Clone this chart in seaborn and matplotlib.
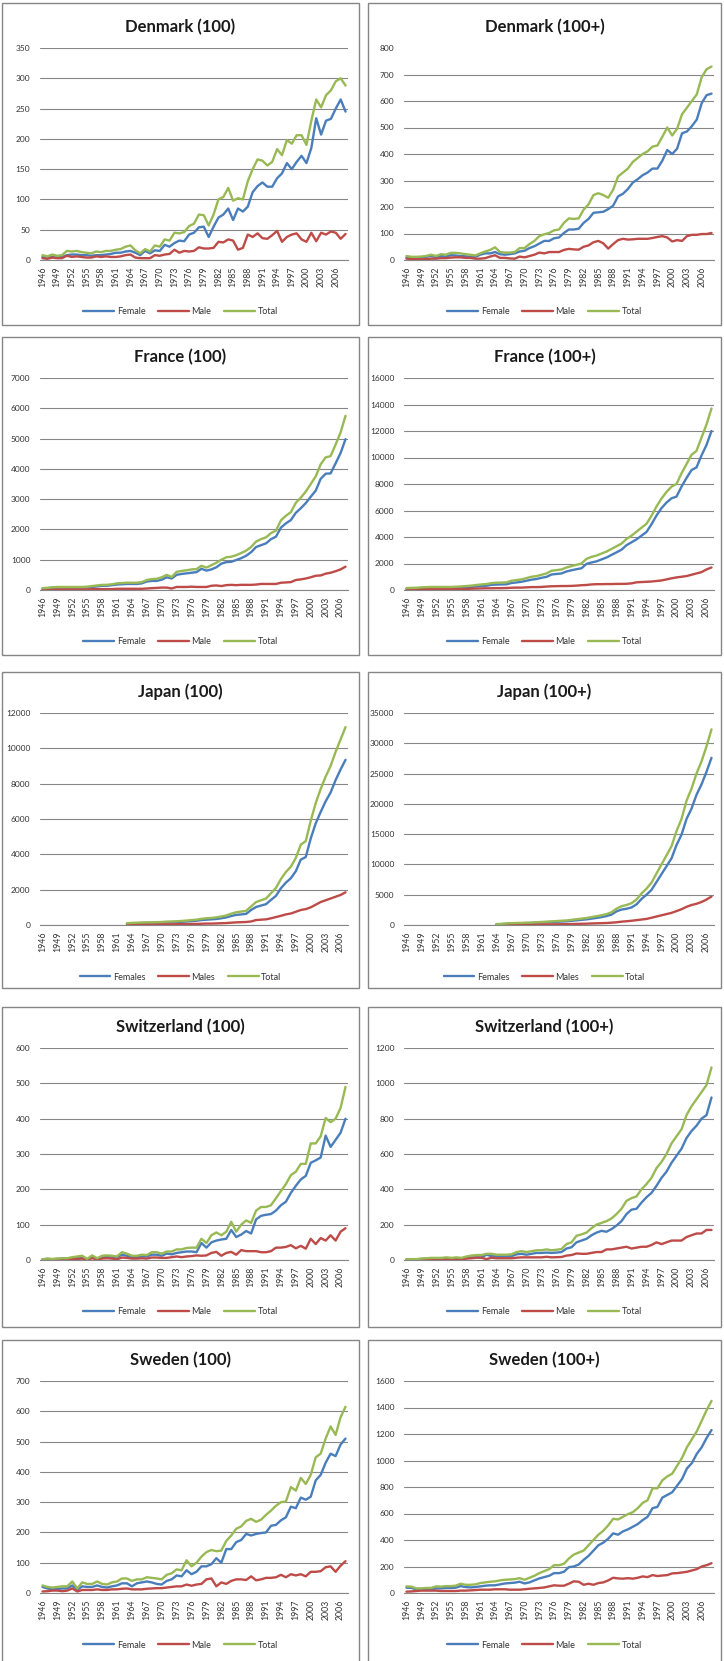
import pandas as pd
import matplotlib
matplotlib.use('Agg')
import matplotlib.pyplot as plt
from matplotlib.patches import Rectangle
import seaborn as sns

sns.set_theme(style='white')
plt.rcParams['font.family'] = ['Lato', 'DejaVu Sans']

W, H = 724, 1661
BLUE, RED, GREEN = '#4A7EBB', '#BE4B48', '#98B954'
GRID = '#868686'

# ---- Denmark (100), 1946-2008
dk100_f = [5, 4, 5, 4, 5, 8, 9, 9, 8, 8,
           7, 8, 8, 9, 10, 12, 12, 14, 15, 12,
           8, 15, 11, 16, 15, 25, 22, 28, 32, 31,
           42, 45, 54, 55, 38, 55, 70, 75, 85, 66,
           85, 80, 88, 112, 122, 128, 121, 121, 135, 143,
           160, 150, 162, 172, 160, 185, 234, 207, 230, 233,
           250, 265, 245]
dk100_m = [3, 2, 4, 3, 3, 7, 5, 6, 5, 4,
           4, 6, 5, 6, 5, 5, 6, 8, 9, 4,
           3, 3, 3, 8, 7, 9, 10, 17, 12, 15,
           14, 15, 21, 19, 19, 20, 30, 29, 34, 32,
           17, 20, 42, 38, 44, 36, 35, 41, 48, 30,
           38, 42, 44, 34, 30, 45, 31, 45, 42, 47,
           45, 35, 43]
dk100_t = [8, 6, 9, 7, 8, 15, 14, 15, 13, 12,
           11, 14, 13, 15, 15, 17, 18, 22, 24, 16,
           11, 18, 14, 24, 22, 34, 32, 45, 44, 46,
           56, 60, 75, 74, 57, 75, 100, 104, 119, 98,
           102, 100, 130, 150, 166, 164, 156, 162, 183, 173,
           198, 192, 206, 206, 190, 230, 265, 252, 272, 280,
           295, 300, 288]

# ---- Denmark (100+), 1946-2008
dk100p_f = [10, 8, 8, 10, 12, 15, 10, 15, 13, 18,
            17, 15, 14, 12, 12, 20, 25, 25, 30, 22,
            20, 22, 25, 32, 35, 45, 52, 62, 72, 72,
            82, 85, 102, 115, 115, 118, 140, 155, 178, 180,
            182, 192, 205, 240, 250, 268, 292, 305, 320, 330,
            345, 345, 375, 415, 400, 420, 478, 485, 505, 530,
            592, 622, 628]
dk100p_m = [5, 4, 4, 3, 3, 5, 5, 7, 7, 9,
            10, 10, 8, 8, 5, 5, 7, 13, 18, 8,
            8, 6, 5, 13, 10, 15, 20, 28, 25, 30,
            30, 30, 38, 42, 40, 39, 50, 55, 67, 72,
            63, 43, 60, 75, 80, 77, 78, 80, 80, 80,
            83, 87, 90, 85, 70, 75, 72, 90, 95, 95,
            98, 98, 102]
dk100p_t = [15, 12, 12, 13, 15, 20, 15, 22, 20, 27,
            27, 25, 22, 20, 17, 25, 32, 38, 48, 30,
            28, 28, 30, 45, 45, 60, 72, 90, 97, 102,
            112, 115, 140, 157, 155, 157, 190, 210, 245, 252,
            245, 235, 265, 315, 330, 345, 370, 385, 400, 410,
            428, 432, 465, 500, 470, 495, 550, 575, 600, 625,
            690, 720, 730]

# ---- France (100), 1946-2007
fr100_f = [50, 60, 75, 80, 80, 80, 80, 80, 80, 90,
           100, 120, 140, 140, 160, 180, 190, 200, 200, 200,
           220, 280, 300, 300, 340, 420, 380, 500, 530, 550,
           570, 590, 700, 640, 680, 750, 870, 920, 930, 990,
           1050, 1130, 1250, 1420, 1480, 1540, 1680, 1760, 2060, 2200,
           2310, 2550, 2700, 2870, 3080, 3280, 3670, 3840, 3850, 4180,
           4520, 4980]
fr100_m = [10, 10, 15, 20, 20, 20, 20, 20, 20, 20,
           30, 30, 30, 30, 30, 40, 40, 40, 40, 40,
           40, 50, 60, 70, 80, 80, 50, 100, 100, 100,
           110, 100, 100, 100, 140, 150, 130, 160, 170, 160,
           170, 170, 170, 180, 200, 200, 200, 200, 240, 250,
           260, 330, 350, 380, 420, 470, 480, 540, 570, 620,
           680, 770]
fr100_t = [60, 70, 90, 100, 100, 100, 100, 100, 100, 110,
           130, 150, 170, 170, 190, 220, 230, 240, 240, 240,
           260, 330, 360, 370, 420, 500, 430, 600, 630, 650,
           680, 690, 800, 740, 820, 900, 1000, 1080, 1100, 1150,
           1220, 1300, 1420, 1600, 1680, 1740, 1880, 1960, 2300, 2450,
           2570, 2880, 3050, 3250, 3500, 3750, 4150, 4380, 4420, 4800,
           5200, 5750]

# ---- France (100+), 1946-2007
fr100p_f = [100, 110, 110, 140, 150, 160, 160, 160, 160, 160,
            170, 190, 220, 230, 270, 300, 320, 390, 410, 420,
            430, 530, 570, 620, 700, 780, 830, 920, 990, 1170,
            1210, 1250, 1400, 1490, 1570, 1640, 1970, 2080, 2160, 2310,
            2450, 2650, 2840, 3040, 3380, 3600, 3820, 4100, 4380, 4960,
            5620, 6180, 6600, 6920, 7050, 7800, 8450, 9050, 9250, 10150,
            10950, 12000]
fr100p_m = [50, 50, 60, 60, 70, 70, 70, 70, 70, 70,
            80, 80, 80, 100, 110, 120, 130, 130, 140, 140,
            150, 170, 180, 180, 200, 220, 220, 230, 260, 280,
            290, 300, 300, 310, 330, 360, 380, 420, 440, 440,
            450, 450, 460, 460, 470, 500, 580, 600, 620, 640,
            680, 720, 800, 880, 950, 1000, 1050, 1150, 1250, 1350,
            1550, 1700]
fr100p_t = [150, 160, 170, 200, 220, 230, 230, 230, 230, 230,
            250, 270, 300, 330, 380, 420, 450, 520, 550, 560,
            580, 700, 750, 800, 900, 1000, 1050, 1150, 1250, 1450,
            1500, 1550, 1700, 1800, 1900, 2000, 2350, 2500, 2600, 2750,
            2900, 3100, 3300, 3500, 3850, 4100, 4400, 4700, 5000, 5600,
            6300, 6900, 7400, 7800, 8000, 8800, 9500, 10200, 10500, 11500,
            12500, 13700]

# ---- Japan (100), 1963-2007
jp100_f = [80, 95, 105, 110, 120, 120, 130, 135, 150, 160,
           165, 180, 200, 220, 240, 280, 300, 320, 340, 380,
           430, 510, 570, 600, 630, 850, 1020, 1100, 1180, 1420,
           1650, 2080, 2400, 2650, 3050, 3700, 3850, 4900, 5750, 6400,
           7000, 7500, 8200, 8800, 9350]
jp100_m = [20, 25, 25, 30, 30, 30, 30, 35, 40, 40,
           45, 50, 50, 60, 60, 70, 80, 80, 90, 100,
           110, 130, 150, 160, 170, 200, 280, 300, 320, 380,
           450, 520, 600, 650, 750, 850, 900, 1000, 1150, 1300,
           1400, 1500, 1600, 1700, 1850]
jp100_t = [100, 120, 130, 140, 150, 150, 160, 170, 190, 200,
           210, 230, 250, 280, 300, 350, 380, 400, 430, 480,
           540, 640, 720, 760, 800, 1050, 1300, 1400, 1500, 1800,
           2100, 2600, 3000, 3300, 3800, 4550, 4750, 5900, 6900, 7700,
           8400, 9000, 9800, 10500, 11200]

# ---- Japan (100+), 1964-2007
jp100p_f = [120, 145, 210, 250, 275, 290, 315, 330, 370, 410,
            450, 490, 530, 570, 610, 690, 770, 850, 930, 1050,
            1170, 1300, 1470, 1720, 2250, 2550, 2680, 2900, 3400, 4300,
            5000, 5800, 7100, 8400, 9700, 11000, 13200, 14900, 17500, 19200,
            21500, 23200, 25300, 27600]
jp100p_m = [30, 35, 40, 50, 55, 60, 65, 70, 80, 90,
            100, 110, 120, 130, 140, 160, 180, 200, 220, 250,
            280, 300, 330, 380, 450, 550, 620, 700, 800, 900,
            1000, 1200, 1400, 1600, 1800, 2000, 2300, 2600, 3000, 3300,
            3500, 3800, 4200, 4700]
jp100p_t = [150, 180, 250, 300, 330, 350, 380, 400, 450, 500,
            550, 600, 650, 700, 750, 850, 950, 1050, 1150, 1300,
            1450, 1600, 1800, 2100, 2700, 3100, 3300, 3600, 4200, 5200,
            6000, 7000, 8500, 10000, 11500, 13000, 15500, 17500, 20500, 22500,
            25000, 27000, 29500, 32300]

# ---- Switzerland (100), 1946-2007
ch100_f = [2, 3, 2, 3, 4, 4, 5, 7, 8, 2,
           8, 3, 8, 8, 8, 8, 15, 12, 8, 8,
           10, 10, 15, 15, 12, 18, 16, 20, 22, 24,
           24, 22, 48, 35, 50, 55, 58, 60, 85, 65,
           72, 82, 75, 115, 125, 128, 130, 140, 155, 165,
           190, 210, 228, 238, 275, 282, 290, 352, 320, 340,
           360, 400]
ch100_m = [0, 1, 1, 1, 1, 1, 3, 3, 4, 1,
           5, 2, 4, 5, 4, 2, 7, 6, 4, 4,
           5, 4, 7, 7, 6, 6, 8, 10, 8, 10,
           11, 13, 12, 13, 20, 23, 12, 20, 23, 15,
           28, 25, 25, 25, 22, 22, 25, 35, 35, 37,
           42, 33, 40, 32, 60, 45, 62, 55, 70, 55,
           80, 90]
ch100_t = [2, 4, 3, 4, 5, 5, 8, 10, 12, 3,
           13, 5, 12, 13, 12, 10, 22, 18, 12, 12,
           15, 14, 22, 22, 18, 24, 24, 30, 30, 34,
           35, 35, 60, 48, 70, 78, 70, 80, 108, 80,
           100, 112, 105, 140, 150, 150, 155, 175, 195, 215,
           240, 250, 272, 272, 330, 330, 350, 402, 390, 400,
           430, 490]

# ---- Switzerland (100+), 1946-2007
ch100p_f = [4, 4, 4, 6, 7, 8, 8, 8, 10, 8,
            10, 8, 12, 15, 15, 15, 30, 22, 20, 20,
            20, 22, 32, 35, 30, 35, 40, 40, 42, 40,
            42, 45, 65, 72, 100, 110, 120, 140, 155, 165,
            160, 175, 195, 220, 260, 285, 290, 325, 355, 380,
            420, 465, 500, 550, 590, 630, 690, 730, 760, 800,
            820, 920]
ch100p_m = [1, 1, 1, 2, 3, 4, 4, 4, 5, 4,
            5, 4, 8, 10, 13, 13, 5, 13, 10, 10,
            10, 10, 13, 15, 15, 15, 15, 15, 18, 15,
            16, 17, 25, 28, 37, 35, 35, 40, 45, 45,
            60, 60, 65, 70, 75, 65, 70, 75, 75, 85,
            100, 90, 100, 110, 110, 110, 130, 140, 150, 150,
            170, 170]
ch100p_t = [5, 5, 5, 8, 10, 12, 12, 12, 15, 12,
            15, 12, 20, 25, 28, 28, 35, 35, 30, 30,
            30, 32, 45, 50, 45, 50, 55, 55, 60, 55,
            58, 62, 90, 100, 137, 145, 155, 180, 200, 210,
            220, 235, 260, 290, 335, 350, 360, 400, 430, 465,
            520, 555, 600, 660, 700, 740, 820, 870, 910, 950,
            990, 1090]

# ---- Sweden (100), 1946-2007
se100_f = [20, 15, 12, 13, 15, 15, 25, 10, 22, 20,
           20, 25, 20, 18, 22, 25, 32, 32, 22, 32,
           35, 38, 35, 30, 28, 40, 45, 58, 55, 75,
           62, 70, 88, 88, 95, 115, 100, 145, 145, 168,
           175, 195, 190, 195, 198, 200, 222, 225, 240, 250,
           285, 280, 315, 308, 318, 372, 390, 430, 460, 452,
           490, 510]
se100_m = [5, 6, 8, 8, 6, 8, 15, 5, 10, 10,
           10, 12, 10, 10, 12, 12, 14, 15, 12, 12,
           12, 14, 15, 16, 16, 18, 20, 22, 22, 28,
           24, 28, 30, 45, 48, 22, 35, 30, 40, 45,
           45, 43, 55, 42, 45, 50, 50, 52, 60, 52,
           62, 58, 62, 55, 70, 70, 72, 85, 88, 70,
           90, 105]
se100_t = [25, 20, 18, 20, 22, 22, 38, 15, 35, 30,
           30, 38, 30, 28, 35, 38, 48, 48, 40, 45,
           45, 52, 50, 48, 45, 60, 65, 78, 75, 108,
           88, 100, 120, 135, 142, 138, 140, 172, 190, 212,
           220, 238, 245, 235, 242, 258, 272, 288, 300, 302,
           350, 338, 380, 360, 390, 448, 460, 510, 550, 522,
           580, 615]

# ---- Sweden (100+), 1946-2008
se100p_f = [40, 38, 28, 25, 28, 28, 35, 35, 38, 38,
            40, 52, 45, 42, 45, 50, 55, 58, 58, 65,
            72, 75, 78, 85, 72, 80, 95, 110, 120, 130,
            150, 150, 160, 195, 200, 215, 250, 280, 320, 360,
            380, 410, 450, 440, 465, 480, 500, 520, 550, 575,
            640, 650, 720, 740, 760, 810, 860, 940, 980, 1050,
            1100, 1170, 1230]
se100p_m = [10, 12, 15, 18, 18, 18, 18, 15, 15, 15,
            15, 18, 18, 20, 22, 25, 25, 25, 28, 28,
            28, 25, 25, 25, 28, 32, 35, 38, 42, 50,
            58, 55, 55, 70, 88, 85, 62, 70, 62, 75,
            80, 95, 115, 110, 108, 112, 108, 115, 125, 120,
            135, 128, 132, 135, 148, 150, 155, 160, 170, 180,
            200, 210, 225]
se100p_t = [50, 48, 35, 35, 38, 38, 50, 48, 52, 52,
            55, 70, 62, 62, 65, 75, 80, 85, 88, 95,
            100, 102, 105, 112, 100, 115, 130, 150, 165, 180,
            210, 210, 220, 260, 290, 305, 320, 360, 400, 440,
            470, 510, 560, 555, 575, 595, 610, 640, 680, 700,
            790, 790, 850, 880, 900, 960, 1020, 1100, 1160, 1220,
            1300, 1380, 1450]

names_a = ['Female', 'Male', 'Total']
names_b = ['Females', 'Males', 'Total']

# title, first year, female, male, total, y max, y step, legend names, top gridline
panels = [
    ('Denmark (100)', 1946, dk100_f, dk100_m, dk100_t, 350, 50, names_a, True),
    ('Denmark (100+)', 1946, dk100p_f, dk100p_m, dk100p_t, 800, 100, names_a, False),
    ('France (100)', 1946, fr100_f, fr100_m, fr100_t, 7000, 1000, names_a, True),
    ('France (100+)', 1946, fr100p_f, fr100p_m, fr100p_t, 16000, 2000, names_a, True),
    ('Japan (100)', 1963, jp100_f, jp100_m, jp100_t, 12000, 2000, names_b, True),
    ('Japan (100+)', 1964, jp100p_f, jp100p_m, jp100p_t, 35000, 5000, names_b, True),
    ('Switzerland (100)', 1946, ch100_f, ch100_m, ch100_t, 600, 100, names_a, True),
    ('Switzerland (100+)', 1946, ch100p_f, ch100p_m, ch100p_t, 1200, 200, names_a, True),
    ('Sweden (100)', 1946, se100_f, se100_m, se100_t, 700, 100, names_a, True),
    ('Sweden (100+)', 1946, se100p_f, se100p_m, se100p_t, 1600, 200, names_a, True),
]

row_top = [3, 337, 672, 1007, 1340]      # frame top
row_bot = [325, 655, 988, 1327, 1675]    # frame bottom
row_ref = [7, 337, 672, 1007, 1340]      # reference for title / plot / legend
col_box = [(2, 359), (368, 721)]
col_plot = [(40, 348), (404, 714)]


def fig_rect(x0, y0, x1, y1):
    return [x0 / W, 1 - y1 / H, (x1 - x0) / W, (y1 - y0) / H]


def draw_panel(fig, row, col, spec):
    title, start, fem, mal, tot, ymax, step, names, top_grid = spec
    top = row_top[row]
    bx0, bx1 = col_box[col]
    fig.patches.append(Rectangle((bx0 / W, 1 - row_bot[row] / H),
                                 (bx1 - bx0) / W, (row_bot[row] - top) / H,
                                 transform=fig.transFigure, fill=False,
                                 edgecolor=GRID, linewidth=1.0))

    ref = row_ref[row]
    px0, px1 = col_plot[col]
    ax = fig.add_axes(fig_rect(px0, ref + 41, px1, ref + 253))

    years = list(range(start, start + len(tot)))
    df = pd.DataFrame({'year': years, names[0]: fem, names[1]: mal, names[2]: tot})
    long = df.melt(id_vars='year', var_name='series', value_name='count')
    sns.lineplot(data=long, x='year', y='count', hue='series',
                 palette=[BLUE, RED, GREEN], linewidth=1.7, ax=ax)

    last = years[-1]
    ax.set_xlim(1945.5, last + 0.5)
    ax.set_ylim(0, ymax)
    ax.set_yticks(range(0, ymax + 1, step))
    ax.set_xticks(range(1946, last + 1, 3))
    ax.tick_params(axis='x', labelrotation=90, labelsize=6.3, colors='#333333',
                   length=3, width=0.7, direction='out', pad=2)
    ax.tick_params(axis='y', labelsize=6, colors='#333333', length=0, pad=7)
    ax.tick_params(axis='x', color=GRID)
    ax.yaxis.grid(True, color=GRID, linewidth=0.8)
    ax.xaxis.grid(False)
    if not top_grid:
        ax.get_ygridlines()[-1].set_visible(False)
    for side in ('left', 'top', 'right'):
        ax.spines[side].set_visible(False)
    ax.spines['bottom'].set_color(GRID)
    ax.spines['bottom'].set_linewidth(0.8)
    ax.set_xlabel('')
    ax.set_ylabel('')

    cx = (bx0 + bx1) / 2
    fig.text(cx / W, 1 - (ref + 20) / H, title, ha='center', va='center',
             fontsize=12, fontweight='bold', color='#1a1a1a')

    leg_x = (cx - px0) / (px1 - px0)
    leg_y = (253 - 305) / (253 - 41)
    sns.move_legend(ax, 'center', bbox_to_anchor=(leg_x, leg_y), ncol=3,
                    frameon=False, title=None, fontsize=6.5, handlelength=3.4,
                    columnspacing=1.4, handletextpad=0.3)
    for t in ax.get_legend().get_texts():
        t.set_color('#333333')


fig = plt.figure(figsize=(W / 100, H / 100), dpi=100)
fig.patch.set_facecolor('white')
for i, spec in enumerate(panels):
    draw_panel(fig, i // 2, i % 2, spec)

fig.savefig('out.png', dpi=100, facecolor='white')
